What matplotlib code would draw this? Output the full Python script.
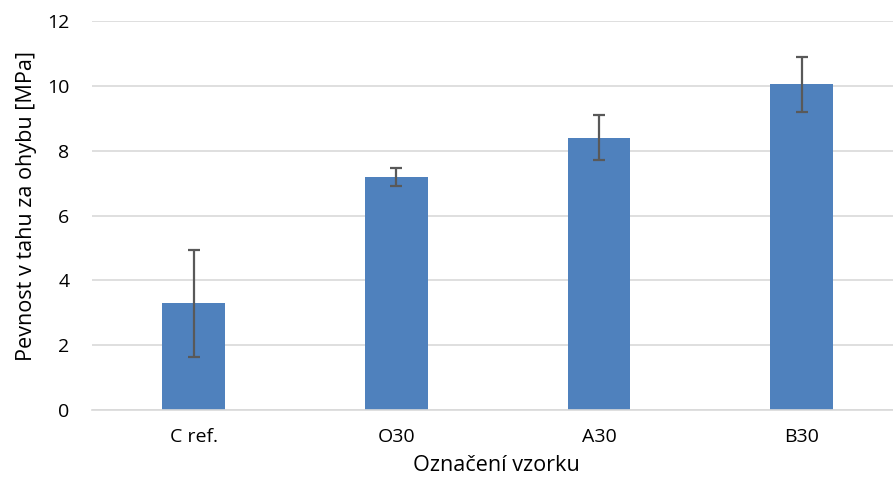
import matplotlib
matplotlib.use("Agg")
import matplotlib.pyplot as plt

# data
samples = ["C ref.", "O30", "A30", "B30"]
strength = [3.29, 7.19, 8.40, 10.05]
strength_err = [1.66, 0.27, 0.69, 0.85]

plt.rcParams['font.family'] = ['Open Sans', 'DejaVu Sans']

fig = plt.figure(figsize=(8.93, 4.90), dpi=100)
ax = fig.add_axes([0.1025, 0.163, 0.8975, 0.794])

x = list(range(len(samples)))
ax.bar(x, strength, width=0.31, color="#4f81bd", zorder=2)
ax.errorbar(x, strength, yerr=strength_err, fmt="none", ecolor="#595959",
            elinewidth=1.6, capsize=4.5, capthick=1.6, zorder=3)

ax.set_ylim(0, 12)
ax.set_yticks(range(0, 13, 2))
ax.set_xlim(-0.503, 3.45)
ax.set_xticks(x)
ax.set_xticklabels(samples)

ax.grid(axis="y", color="#d9d9d9", linewidth=1.2, zorder=0)
for side in ["top", "right", "left"]:
    ax.spines[side].set_visible(False)
ax.spines["bottom"].set_color("#d9d9d9")
ax.spines["bottom"].set_linewidth(1.2)
ax.tick_params(axis="both", length=0, labelsize=14, colors="#000000")
ax.tick_params(axis="y", pad=16)
ax.tick_params(axis="x", pad=13)

ax.set_ylabel("Pevnost v tahu za ohybu [MPa]", fontsize=15.6, labelpad=7, y=0.525)
ax.set_xlabel("Označení vzorku", fontsize=15.6, labelpad=6, x=0.505)

fig.savefig("out.png", dpi=100)
